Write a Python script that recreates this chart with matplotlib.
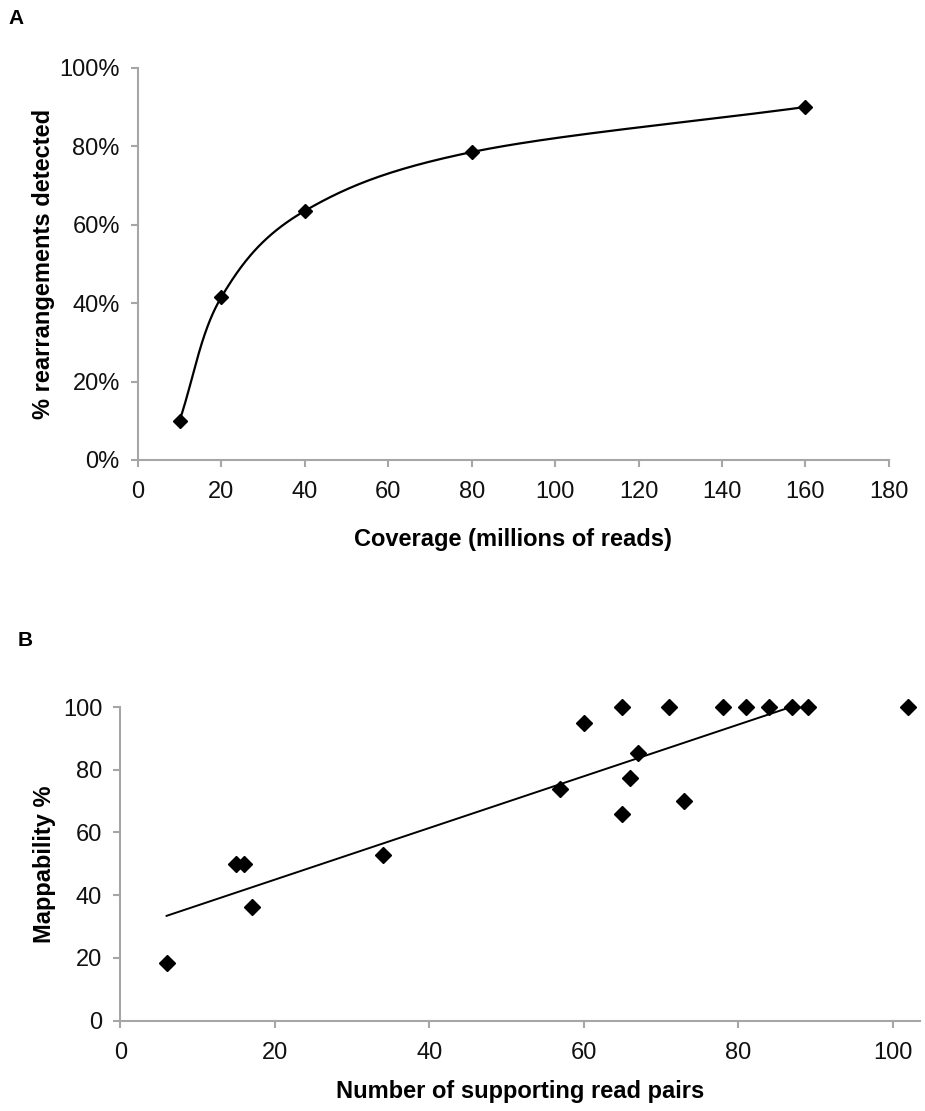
import numpy as np
import matplotlib
matplotlib.use("Agg")
import matplotlib.pyplot as plt
from matplotlib.ticker import FuncFormatter

plt.rcParams['font.family'] = ['Liberation Sans', 'DejaVu Sans']

# Panel A: detection vs coverage
coverage = [10, 20, 40, 80, 160]
detected = [10.0, 41.5, 63.5, 78.5, 90.0]

# Panel B: mappability vs supporting read pairs
read_pairs = [6, 15, 16, 17, 34, 57, 60, 65, 65, 66, 67, 71, 73, 78, 81, 84, 87, 89, 102]
mappability = [18.4, 50, 50, 36.2, 52.7, 73.8, 95, 100, 65.8, 77.3, 85.2, 100, 70.1,
               100, 100, 100, 100, 100, 100]

GRAY = '#a6a6a6'
FS = 17


def smooth_curve(x, y, n=60):
    # Catmull-Rom style smoothing, like the spreadsheet "smoothed line"
    x = np.asarray(x, float)
    y = np.asarray(y, float)
    px = np.concatenate([[2 * x[0] - x[1]], x, [2 * x[-1] - x[-2]]])
    py = np.concatenate([[2 * y[0] - y[1]], y, [2 * y[-1] - y[-2]]])
    xs, ys = [], []
    t = np.linspace(0, 1, n)
    for i in range(1, len(px) - 2):
        p0, p1, p2, p3 = [np.array([px[j], py[j]]) for j in (i - 1, i, i + 1, i + 2)]
        m1 = (p2 - p0) / 2
        m2 = (p3 - p1) / 2
        h00 = 2 * t**3 - 3 * t**2 + 1
        h10 = t**3 - 2 * t**2 + t
        h01 = -2 * t**3 + 3 * t**2
        h11 = t**3 - t**2
        pts = np.outer(h00, p1) + np.outer(h10, m1) + np.outer(h01, p2) + np.outer(h11, m2)
        xs.extend(pts[:, 0])
        ys.extend(pts[:, 1])
    return np.array(xs), np.array(ys)


def style_axes(ax):
    for s in ['top', 'right']:
        ax.spines[s].set_visible(False)
    for s in ['left', 'bottom']:
        ax.spines[s].set_color(GRAY)
        ax.spines[s].set_linewidth(1.5)
    ax.tick_params(axis='both', which='major', direction='out', length=5, width=1.5,
                   color=GRAY, labelsize=FS, labelcolor='#111111')
    ax.tick_params(axis='y', pad=8)
    ax.tick_params(axis='x', pad=10)


fig = plt.figure(figsize=(9.25, 11.11), dpi=100)

# ---- Panel A ----
axA = fig.add_axes([0.149, 0.586, 0.812, 0.353])
sx, sy = smooth_curve(coverage, detected)
axA.plot(sx, sy, color='black', lw=1.6)
axA.plot(coverage, detected, linestyle='none', marker='D', markersize=7, color='black', clip_on=False)
axA.set_xlim(0, 180)
axA.set_ylim(0, 100)
axA.set_xticks(range(0, 181, 20))
axA.set_yticks(range(0, 101, 20))
axA.yaxis.set_major_formatter(FuncFormatter(lambda v, p: '%d%%' % v))
style_axes(axA)
axA.set_xlabel('Coverage (millions of reads)', fontsize=FS, fontweight='bold', labelpad=18)
axA.set_ylabel('% rearrangements detected', fontsize=FS, fontweight='bold', labelpad=3)

# ---- Panel B ----
axB = fig.add_axes([0.130, 0.0813, 0.865, 0.2823])
slope, intercept = np.polyfit(read_pairs, mappability, 1)
tx = np.array([min(read_pairs), max(read_pairs)])
axB.plot(tx, slope * tx + intercept, color='black', lw=1.4)
axB.plot(read_pairs, mappability, linestyle='none', marker='D', markersize=8.5, color='black',
         clip_on=False)
axB.set_xlim(0, 103.6)
axB.set_ylim(0, 100)
axB.set_xticks(range(0, 101, 20))
axB.set_yticks(range(0, 101, 20))
style_axes(axB)
axB.set_xlabel('Number of supporting read pairs', fontsize=FS, fontweight='bold', labelpad=12)
axB.set_ylabel('Mappability %', fontsize=FS, fontweight='bold', labelpad=5)

fig.text(0.009, 0.992, 'A', fontsize=15, fontweight='bold', va='top')
fig.text(0.019, 0.432, 'B', fontsize=15, fontweight='bold', va='top')

fig.savefig('out.png', dpi=100, facecolor='white')
